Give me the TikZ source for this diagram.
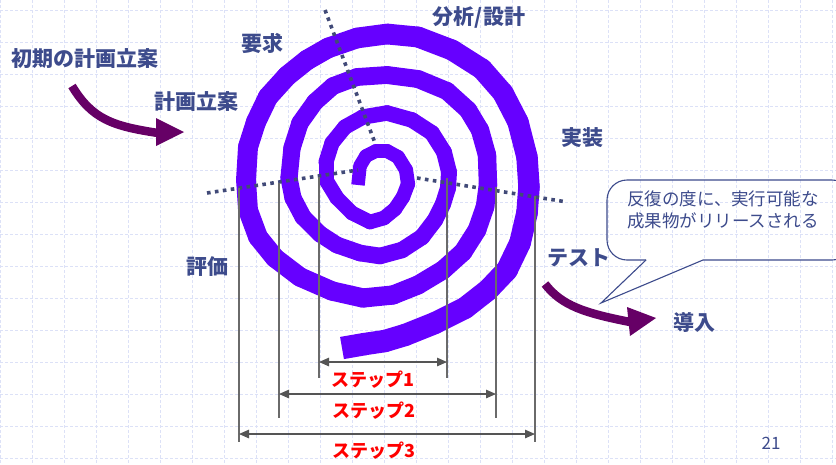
\documentclass[tikz,border=0pt]{standalone}
\usepackage{fontspec}
\newfontfamily\jp{Noto Sans CJK JP}
\usetikzlibrary{arrows.meta}
\definecolor{lbl}{HTML}{3D4B8C}
\definecolor{spir}{HTML}{6600FF}
\definecolor{arr}{HTML}{660066}
\definecolor{gridc}{HTML}{DCE1F7}
\definecolor{dotc}{HTML}{414A78}
\definecolor{vline}{HTML}{6A6A6A}
\definecolor{dimc}{HTML}{555555}
\definecolor{steptxt}{HTML}{FF0000}
\tikzset{
  gridline/.style={gridc, line width=0.9pt, dash pattern=on 3pt off 2pt},
  phase/.style={font=\jp\bfseries\fontsize{21}{24}\selectfont, text=lbl, inner sep=0pt},
  steplbl/.style={font=\jp\bfseries\fontsize{18}{21}\selectfont, text=steptxt, inner sep=0pt},
  axisdots/.style={dotc, line width=3.6pt, dash pattern=on 3.6pt off 4.4pt},
  guide/.style={vline, line width=1.2pt},
  dimarrow/.style={dimc, line width=1.2pt, {Triangle[length=10pt,width=8.5pt]}-{Triangle[length=10pt,width=8.5pt]}},
  bigarrow/.style={arr, line width=8.5pt},
  calloutline/.style={lbl, line width=1.1pt},
}
\begin{document}
\begin{tikzpicture}[x=1pt,y=-1pt]
\useasboundingbox (0,0) rectangle (836,464);
\fill[white] (0,0) rectangle (836,464);
% grid
\foreach \k in {0,...,26} { \draw[gridline] ({32*\k},0) -- ({32*\k},464); }
\foreach \k in {0,...,14} { \draw[gridline] (0,{10+32*\k}) -- (836,{10+32*\k}); }

% spiral points
\foreach \px/\py [count=\i] in {358/185,360/166,366/156,376/151,387/151,398/157,406/170,408/184,403/197,395/209,384/218,370/222,352/213,337/198,326/180,326/162,332/143,345/127,363/117,387/113,412/120,432/133,444/152,449/172,448/188,443/204,435/220,422/237,402/250,380/256,360/253,337/245,320/234,303/217,293/198,289/178,292/148,300/123,315/102,333/86,357/77,387/75,418/79,447/91,468/110,480/130,487/155,488/185,485/207,477/230,463/252,443/270,418/285,393/295,363/298,332/291,300/277,275/258,258/237,248/210,246/180,248/147,256/122,268/97,287/76,307/60,328/48,357/38,387/34,418/37,452/50,482/69,503/93,518/122,527/157,529/187,527/213,520/243,507/270,488/290,465/308,435/323,405/335,385/341,365/344,342/348}
  { \coordinate (s\i) at (\px,\py); \xdef\ns{\i} }
\foreach \i in {3,...,85} {
  \pgfmathtruncatemacro\j{\i-1}
  \pgfmathsetmacro\w{13.5+9*(\i-2)/84}
  \draw[spir, line width=\w pt, line cap=round] (s\j) -- (s\i);
}
\draw[spir, line width=13.5pt] (s1) -- (s2);
\draw[spir, line width=22.5pt] (s85) -- (s86);

% axis dotted lines
\coordinate (d1a) at (207,193); \coordinate (d1b) at (358,170);
\coordinate (d2a) at (417,178); \coordinate (d2b) at (567,202);
\coordinate (d3a) at (325,10);  \coordinate (d3b) at (375,143);
\draw[axisdots] (d1a) -- (d1b);
\draw[axisdots] (d2a) -- (d2b);
\draw[axisdots] (d3a) -- (d3b);

% guide lines
\coordinate (g1t) at (319,177); \coordinate (g1b) at (319,378);
\coordinate (g2t) at (279,183); \coordinate (g2b) at (279,418);
\coordinate (g3t) at (239,188); \coordinate (g3b) at (239,442);
\coordinate (h1t) at (447,178); \coordinate (h1b) at (447,378);
\coordinate (h2t) at (496,187); \coordinate (h2b) at (496,418);
\coordinate (h3t) at (535,196); \coordinate (h3b) at (535,442);
\draw[guide] (g1t) -- (g1b);
\draw[guide] (g2t) -- (g2b);
\draw[guide] (g3t) -- (g3b);
\draw[guide] (h1t) -- (h1b);
\draw[guide] (h2t) -- (h2b);
\draw[guide] (h3t) -- (h3b);

% dimension arrows
\coordinate (a1l) at (319,362); \coordinate (a1r) at (447,362);
\coordinate (a2l) at (279,394); \coordinate (a2r) at (496,394);
\coordinate (a3l) at (239,434); \coordinate (a3r) at (535,434);
\draw[dimarrow] (a1l) -- (a1r);
\draw[dimarrow] (a2l) -- (a2r);
\draw[dimarrow] (a3l) -- (a3r);
\node[steplbl] (st1) at (373,380) {ステップ1};
\node[steplbl] (st2) at (374,411) {ステップ2};
\node[steplbl] (st3) at (374,451) {ステップ3};

% phase labels
\node[phase] (init) at (85,59) {初期の計画立案};
\node[phase] (plan) at (196,102) {計画立案};
\node[phase] (req) at (262,43) {要求};
\node[phase] (des) at (479,17) {分析/設計};
\node[phase] (impl) at (582,138) {実装};
\node[phase] (eval) at (207,267) {評価};
\node[phase] (test) at (579,258) {テスト};
\node[phase] (dep) at (694,322) {導入};

% big purple arrows
\coordinate (la0) at (72,86); \coordinate (la1) at (158,133);
\draw[bigarrow] (la0) .. controls (92,119) and (112,126) .. (la1);
\fill[arr] (156,118) -- (184,132) -- (156,146) -- cycle;
\coordinate (ra0) at (545,284); \coordinate (ra1) at (630,322);
\draw[bigarrow] (ra0) .. controls (562,306) and (585,313) .. (ra1);
\fill[arr] (627,307) -- (656,318) -- (630,336) -- cycle;

% callout
\draw[calloutline, rounded corners=20pt] (703,260) -- (852,260) -- (852,180) -- (607,180) -- (607,260) -- (646,260);
\draw[calloutline] (646,260) -- (601,303) -- (703,260);
\node[font=\jp\fontsize{17.5}{22}\selectfont, text=lbl, inner sep=0pt, align=center] (note) at (723,210) {反復の度に、実行可能な\\成果物がリリースされる};

% page number
\node[font=\jp\fontsize{17}{20}\selectfont, text=lbl, inner sep=0pt] (pg) at (771,443) {21};
\end{tikzpicture}
\end{document}
